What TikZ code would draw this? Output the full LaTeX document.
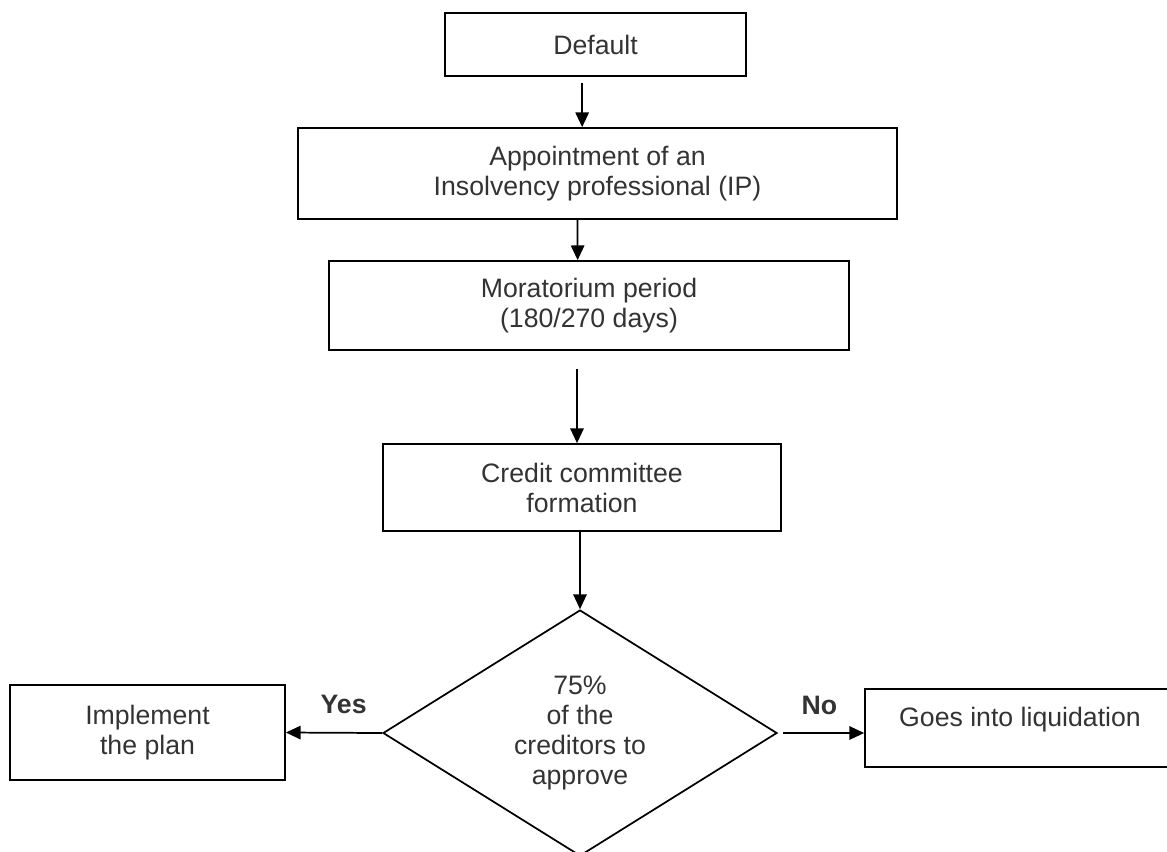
\documentclass[tikz,border=0pt]{standalone}
\usepackage{fontspec}
\setmainfont{Liberation Sans}
\usetikzlibrary{arrows.meta}
\usetikzlibrary{shapes.geometric}
\usetikzlibrary{positioning}
\definecolor{inkgray}{HTML}{333333}
\tikzset{
  box/.style={draw=black,line width=1.3pt,rectangle,align=center,
              text=inkgray,font=\fontsize{20}{22.5}\selectfont},
  decision/.style={draw=black,line width=1.3pt,shape=diamond,aspect=1.6,
              inner sep=0pt,align=center,text=inkgray,
              font=\fontsize{20}{22.5}\selectfont,
              minimum width=295.5pt,minimum height=184.5pt},
  flow/.style={line width=1.3pt,-{Triangle[length=11pt,width=10pt]}},
  answer/.style={text=inkgray,font=\fontsize{20}{22.5}\selectfont\bfseries}
}
\begin{document}
\begin{tikzpicture}[x=0.75pt,y=-0.75pt]
  \useasboundingbox (0,0) rectangle (1167,851);

  % the steps
  \node[box,minimum width=225.75pt,minimum height=47.25pt] (default) at (595.5,44.5) {Default};
  \node[box,minimum width=449.25pt,minimum height=68.25pt] (appoint) at (597.5,173.5)
       {Appointment of an\\Insolvency professional (IP)};
  \node[box,minimum width=390pt,minimum height=66.75pt] (moratorium) at (589,305.5)
       {Moratorium period\\(180/270 days)};
  \node[box,minimum width=298.5pt,minimum height=65.25pt] (committee) at (582,487.5)
       {Credit committee\\formation};

  % the vote
  \node[decision] (vote) at (580,733) {75\%\\of the\\creditors to\\approve};

  % the outcomes
  \node[box,minimum width=206.25pt,minimum height=71.25pt] (implement) at (147.5,732.5)
       {Implement\\the plan};
  \node[box,minimum width=232.5pt,minimum height=58.5pt] (liquidation) at (1020,728)
       {Goes into liquidation\\[-5pt]\mbox{}};

  % connectors
  \draw[flow] ([xshift=-10pt,yshift=-4.5pt]default.south) --
              ([xshift=-10pt]default.south |- appoint.north);
  \draw[flow] ([xshift=-15pt]appoint.south) -- ([xshift=-8.5pt]moratorium.north);
  \draw[flow] ([xshift=-9pt,yshift=-13.5pt]moratorium.south) --
              ([xshift=-3.75pt]committee.north);
  \draw[flow] (committee.south -| vote.north) -- (vote.north);
  \draw[flow] (vote.west) -- (implement.east)
       node[answer,pos=0.4,above=10pt] {Yes};
  \draw[flow] ([xshift=3.75pt]vote.east) -- (vote.east -| liquidation.west)
       node[answer,pos=0.45,above=10pt] {No};
\end{tikzpicture}
\end{document}
